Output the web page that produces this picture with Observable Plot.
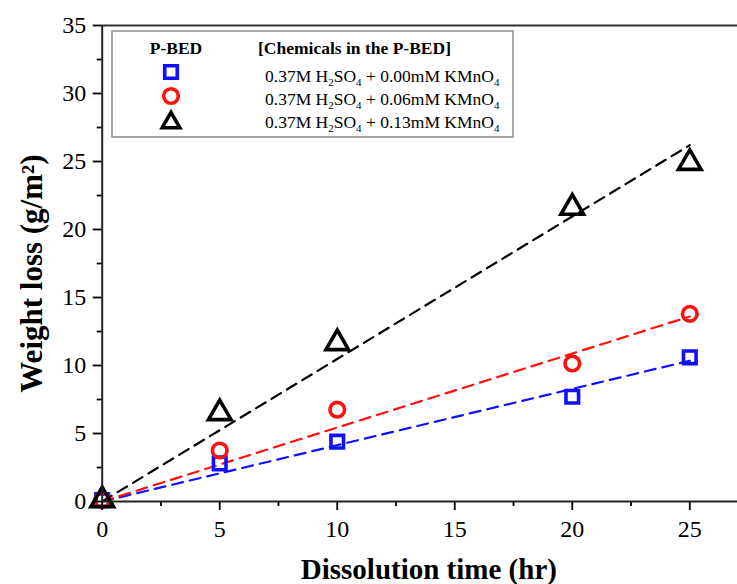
<!DOCTYPE html>
<html>
<head>
<meta charset="utf-8">
<script src="https://cdn.jsdelivr.net/npm/d3@7"></script>
<script src="https://cdn.jsdelivr.net/npm/@observablehq/plot@0.6"></script>
<style>
  body { margin: 0; background: #fff; }
  #chart { position: relative; width: 737px; height: 584px; }
</style>
</head>
<body>
<div id="chart"></div>
<script>
// ---- data ----
const times = [0, 5, 10, 20, 25];
const series = ["0.00mM", "0.06mM", "0.13mM"];
const loss000 = [0.1, 2.8, 4.4, 7.7, 10.6];
const loss006 = [0.1, 3.75, 6.75, 10.15, 13.8];
const loss013 = [0.1, 6.5, 11.65, 21.6, 24.9];
const fitTimes = [0, 25];
const fit000 = [0, 10.35];
const fit006 = [0, 13.6];
const fit013 = [0, 26.2];
const colors = ["#1010ff", "#ff1010", "#000000"];
const symbols = ["square", "circle", "triangle"];
const radii = [7.1, 7.3, 8.4];
const xTicks = [0, 5, 10, 15, 20, 25];
const xMinor = [2.5, 7.5, 12.5, 17.5, 22.5];
const yTicks = [0, 5, 10, 15, 20, 25, 30, 35];
const yMinor = [2.5, 7.5, 12.5, 17.5, 22.5, 27.5, 32.5];
const xTitle = "Dissolution time (hr)";
const yTitle = "Weight loss (g/m²)";
const legendHeader = ["P-BED", "[Chemicals in the P-BED]"];
const legendKmno4 = ["0.00", "0.06", "0.13"];

const allLoss = [loss000, loss006, loss013];
const allFit = [fit000, fit006, fit013];
const points = series.flatMap((s, i) => times.map((t, j) => ({s, t, v: allLoss[i][j]})));
const fits = series.flatMap((s, i) => fitTimes.map((t, j) => ({s, t, v: allFit[i][j]})));

const font = "Liberation Serif, Times New Roman, serif";

const plot = Plot.plot({
  width: 737,
  height: 584,
  marginLeft: 101.7,
  marginRight: 0,
  marginTop: 25,
  marginBottom: 83,
  style: {fontFamily: font, fontSize: "24px", color: "#000", background: "#fff"},
  x: {domain: [0, 27.03]},
  y: {domain: [0, 35]},
  color: {domain: series, range: colors},
  symbol: {domain: series, range: symbols},
  marks: [
    Plot.ruleY([35], {stroke: "#333", strokeWidth: 2}),
    Plot.line(fits, {x: "t", y: "v", z: "s", stroke: "s", strokeWidth: 2.2, strokeDasharray: "11,7"}),
    ...series.map((s, i) => Plot.dot(points.filter(d => d.s === s),
      {x: "t", y: "v", stroke: "s", symbol: "s", r: radii[i], strokeWidth: 3.6})),
    Plot.axisX({ticks: xTicks, tickSize: 9, tickPadding: 9, fontSize: 24, label: null, strokeWidth: 1.8}),
    Plot.axisX({ticks: xMinor, tickSize: 5, text: null, label: null, strokeWidth: 1.8}),
    Plot.axisY({ticks: yTicks, tickSize: 9, tickPadding: 7, fontSize: 24, label: null, strokeWidth: 1.8}),
    Plot.axisY({ticks: yMinor, tickSize: 5, text: null, label: null, strokeWidth: 1.8}),
    Plot.ruleY([0], {stroke: "#222", strokeWidth: 2}),
    Plot.ruleX([0], {stroke: "#222", strokeWidth: 2}),
    Plot.text([xTitle], {frameAnchor: "bottom", lineAnchor: "bottom", textAnchor: "middle", dx: 9, dy: 77, fontSize: 29, fontWeight: "bold"}),
    Plot.text([yTitle], {frameAnchor: "left", textAnchor: "middle", dx: -70, dy: 10, rotate: -90, fontSize: 31, fontWeight: "bold"})
  ]
});
document.getElementById("chart").appendChild(plot);

// ---- legend (drawn into the same svg) ----
const svg = d3.select(plot);
const lg = svg.append("g").attr("font-family", font).attr("text-anchor", "start");
lg.append("rect").attr("x", 112).attr("y", 31).attr("width", 401).attr("height", 106)
  .attr("fill", "#fff").attr("stroke", "#8a8a8a").attr("stroke-width", 1.5);
lg.append("text").attr("x", 176).attr("y", 54).attr("text-anchor", "middle")
  .attr("font-size", 17.5).attr("font-weight", "bold").text(legendHeader[0]);
lg.append("text").attr("x", 258).attr("y", 54).attr("text-anchor", "start")
  .attr("font-size", 17.5).attr("font-weight", "bold").text(legendHeader[1]);
const symMap = {square: d3.symbolSquare, circle: d3.symbolCircle, triangle: d3.symbolTriangle2};
series.forEach((s, i) => {
  const cy = 72 + i * 24;
  const cyAdj = symbols[i] === "triangle" ? cy + 2.6 : cy;
  lg.append("path").attr("transform", `translate(171,${cyAdj})`)
    .attr("d", d3.symbol(symMap[symbols[i]], Math.PI * radii[i] * radii[i])())
    .attr("fill", "none").attr("stroke", colors[i]).attr("stroke-width", 3.6);
  const t = lg.append("text").attr("x", 265).attr("y", 82 + i * 23)
    .attr("text-anchor", "start").attr("font-size", 17.5);
  t.append("tspan").text("0.37M H");
  t.append("tspan").attr("font-size", 11).attr("dy", 4).text("2");
  t.append("tspan").attr("dy", -4).text("SO");
  t.append("tspan").attr("font-size", 11).attr("dy", 4).text("4");
  t.append("tspan").attr("dy", -4).text(` + ${legendKmno4[i]}mM KMnO`);
  t.append("tspan").attr("font-size", 11).attr("dy", 4).text("4");
});
</script>
</body>
</html>
